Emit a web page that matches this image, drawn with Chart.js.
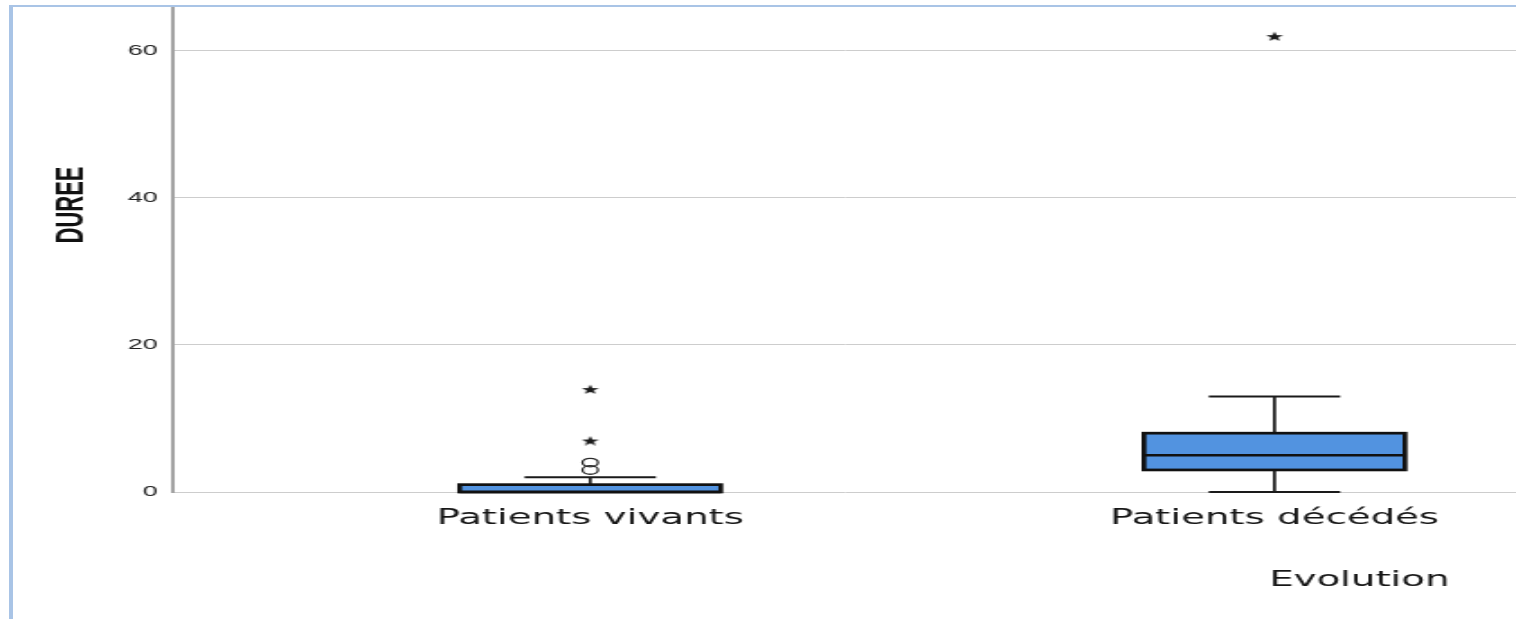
<!DOCTYPE html>
<html>
<head>
<meta charset="utf-8">
<script src="https://cdn.jsdelivr.net/npm/chart.js@4/dist/chart.umd.min.js"></script>
<style>
  html, body { margin: 0; padding: 0; background: #fff; overflow: hidden; }
  #c { position: absolute; left: 0; top: 0; }
  #frame { position: absolute; left: 9px; top: 5px; right: 0; bottom: 0;
           border-left: 4px solid #a9c4e6; border-top: 2px solid #a9c4e6; pointer-events: none; }
</style>
</head>
<body>
<!-- the chart is laid out on a narrow canvas and shown stretched across the page -->
<canvas id="c" width="842" height="619" style="width:1516px;height:619px"></canvas>
<div id="frame"></div>
<script>
// Durée par groupe d'évolution (boîtes à moustaches)
const categories   = ['Patients vivants', 'Patients décédés'];
const whiskerLow   = [0, 0];
const quartile1    = [0, 3];
const medians      = [0, 5];
const quartile3    = [1, 8];
const whiskerHigh  = [2, 13];
const outliersMild    = [[3, 4], []];     // valeurs atypiques (cercles)
const outliersExtreme = [[7, 14], [62]];  // valeurs extrêmes (étoiles)
const yTicks = [0, 20, 40, 60];

// small filled star used as point style for extreme values
function makeStar(size, color) {
  const c = document.createElement('canvas');
  c.width = size; c.height = size;
  const g = c.getContext('2d');
  const cx = size / 2, cy = size / 2 + 0.6, R = size / 2, r = R * 0.42;
  g.fillStyle = color;
  g.beginPath();
  for (let i = 0; i < 10; i++) {
    const a = -Math.PI / 2 + i * Math.PI / 5;
    const rr = i % 2 ? r : R;
    g.lineTo(cx + rr * Math.cos(a), cy + rr * Math.sin(a));
  }
  g.closePath();
  g.fill();
  return c;
}
const starImg = makeStar(10, '#1a1a1a');

const flatPoints = (groups) => groups.flatMap((vals, i) => vals.map(v => ({ x: i, y: v })));

// whiskers, box outlines, medians and axis titles
const boxPlotLines = {
  id: 'boxPlotLines',
  beforeDatasetsDraw(chart) {
    const { ctx, scales: { x, y } } = chart;
    const capHalf = 36.5;
    ctx.save();
    ctx.strokeStyle = '#1a1a1a';
    categories.forEach((_, i) => {
      const px = x.getPixelForValue(i);
      ctx.lineWidth = 1.7;
      ctx.beginPath();
      ctx.moveTo(px, y.getPixelForValue(quartile3[i]));
      ctx.lineTo(px, y.getPixelForValue(whiskerHigh[i]));
      ctx.moveTo(px, y.getPixelForValue(quartile1[i]));
      ctx.lineTo(px, y.getPixelForValue(whiskerLow[i]));
      ctx.stroke();
      ctx.lineWidth = 2;
      ctx.beginPath();
      [whiskerHigh[i], whiskerLow[i]].forEach(v => {
        const py = y.getPixelForValue(v);
        ctx.moveTo(px - capHalf, py);
        ctx.lineTo(px + capHalf, py);
      });
      ctx.stroke();
    });
    ctx.restore();
  },
  afterDatasetDraw(chart, args) {
    if (args.index !== 0) return;
    const { ctx, scales: { y } } = chart;
    const bars = chart.getDatasetMeta(0).data;
    ctx.save();
    ctx.strokeStyle = '#111';
    ctx.lineWidth = 2.7;
    bars.forEach((bar, i) => {
      const left = bar.x - bar.width / 2, right = bar.x + bar.width / 2;
      const top = y.getPixelForValue(quartile3[i]), bottom = y.getPixelForValue(quartile1[i]);
      ctx.strokeRect(left, top, right - left, bottom - top);
      const my = y.getPixelForValue(medians[i]);
      ctx.beginPath();
      ctx.moveTo(left, my);
      ctx.lineTo(right, my);
      ctx.stroke();
    });
    ctx.restore();
  },
  afterDraw(chart) {
    const ctx = chart.ctx;
    ctx.save();
    ctx.fillStyle = '#111';
    ctx.font = 'bold 22px "Liberation Sans Narrow", "Arial Narrow", "Liberation Sans", sans-serif';
    ctx.translate(45.5, 205);
    ctx.rotate(-Math.PI / 2);
    ctx.textAlign = 'center';
    ctx.textBaseline = 'alphabetic';
    ctx.fillText('DUREE', 0, 0);
    ctx.restore();

    ctx.save();
    ctx.fillStyle = '#161616';
    ctx.font = '21.5px "DejaVu Sans", Verdana, sans-serif';
    ctx.textAlign = 'center';
    ctx.textBaseline = 'alphabetic';
    ctx.fillText('Evolution', 755, 586);
    ctx.restore();
  }
};

new Chart(document.getElementById('c'), {
  type: 'bar',
  data: {
    datasets: [
      {
        type: 'bar',
        data: categories.map((_, i) => ({ x: i, y: [quartile1[i], quartile3[i]] })),
        backgroundColor: '#5293e0',
        borderWidth: 0,
        barThickness: 145
      },
      {
        type: 'scatter',
        data: flatPoints(outliersMild),
        pointStyle: 'circle',
        pointRadius: 4.3,
        borderColor: '#2a2a2a',
        borderWidth: 1.3,
        backgroundColor: 'rgba(0,0,0,0)'
      },
      {
        type: 'scatter',
        data: flatPoints(outliersExtreme),
        pointStyle: starImg,
        pointRadius: 5
      }
    ]
  },
  options: {
    responsive: false,
    devicePixelRatio: 1,
    animation: false,
    layout: { autoPadding: false, padding: { top: 6, left: 0, right: 0, bottom: 0 } },
    plugins: { legend: { display: false }, tooltip: { enabled: false } },
    scales: {
      x: {
        type: 'linear',
        min: -0.611,
        max: 1.353,
        offset: false,
        grid: { display: false, drawTicks: false, offset: false },
        border: { display: false },
        afterBuildTicks: s => { s.ticks = categories.map((_, i) => ({ value: i })); },
        afterFit: s => { s.height = 127; s.paddingLeft = 0; s.paddingRight = 0; },
        ticks: {
          autoSkip: false,
          maxRotation: 0,
          padding: 14,
          color: '#161616',
          font: { family: '"DejaVu Sans", Verdana, sans-serif', size: 21.5 },
          callback: v => categories[v]
        }
      },
      y: {
        min: 0,
        max: 66.1,
        grid: { color: '#cdcdcd', lineWidth: 1, drawTicks: false },
        border: { display: true, color: '#a3a3a3', width: 2 },
        afterBuildTicks: s => { s.ticks = yTicks.map(v => ({ value: v })); },
        afterFit: s => { s.width = 95.6; s.paddingTop = 0; s.paddingBottom = 0; },
        ticks: {
          padding: 8,
          color: '#222',
          font: { family: '"Liberation Sans", Arial, sans-serif', size: 15 }
        }
      }
    }
  },
  plugins: [boxPlotLines]
});
</script>
</body>
</html>
